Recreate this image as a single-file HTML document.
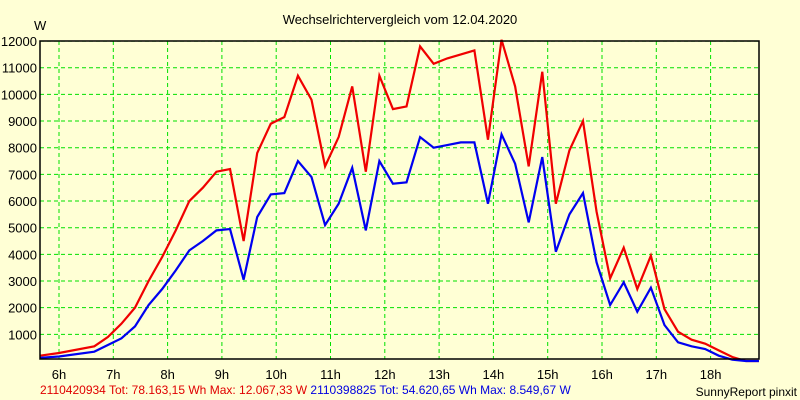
<!DOCTYPE html>
<html><head><meta charset="utf-8"><style>
body{margin:0;background:#ffffd5;}
svg{display:block;font-family:"Liberation Sans",sans-serif;}
</style></head><body>
<svg id="c" width="800" height="400">
<rect x="0" y="0" width="800" height="400" fill="#ffffd5"/>
<text x="400" y="24" font-size="13" text-anchor="middle">Wechselrichtervergleich vom 12.04.2020</text>
<text x="34" y="30" font-size="13">W</text>
<g id="grid"></g><g id="series"></g>
<rect x="40" y="41" width="719" height="318" fill="none" stroke="#000" stroke-width="1.5"/>
<text x="40" y="394" font-size="12"><tspan fill="#e00000">2110420934 Tot: 78.163,15 Wh Max: 12.067,33 W</tspan><tspan fill="#0000e0"> 2110398825 Tot: 54.620,65 Wh Max: 8.549,67 W</tspan></text>
<text x="797" y="396" font-size="12" text-anchor="end">SunnyReport pinxit</text>
</svg>
<script>
const hours=[6,7,8,9,10,11,12,13,14,15,16,17,18];
const yTicks=[1000,2000,3000,4000,5000,6000,7000,8000,9000,10000,11000,12000];
const times=[5.65,6.0,6.65,6.9,7.15,7.4,7.65,7.9,8.15,8.4,8.65,8.9,9.15,9.4,9.65,9.9,10.15,10.4,10.65,10.9,11.15,11.4,11.65,11.9,12.15,12.4,12.65,12.9,13.15,13.4,13.65,13.9,14.15,14.4,14.65,14.9,15.15,15.4,15.65,15.9,16.15,16.4,16.65,16.9,17.15,17.4,17.65,17.9,18.15,18.4,18.65,18.89];
const redVals=[200,300,550,900,1400,2000,3000,3900,4900,6000,6500,7100,7200,4500,7800,8900,9150,10700,9800,7300,8400,10300,7100,10700,9450,9550,11800,11150,11350,11500,11650,8300,12050,10300,7300,10850,5900,7900,9000,5600,3100,4250,2700,3950,1950,1100,800,650,400,150,0,0];
const blueVals=[120,170,350,600,850,1300,2100,2700,3400,4150,4500,4900,4950,3050,5400,6250,6300,7500,6900,5100,5900,7250,4900,7500,6650,6700,8400,8000,8100,8200,8200,5900,8500,7400,5200,7650,4100,5500,6300,3700,2100,2950,1850,2750,1350,700,550,450,200,50,0,0];
const NS="http://www.w3.org/2000/svg";
const xs=t=>59+(t-6)*54.3;
const ys=v=>361-v*0.02666;
const grid=document.getElementById('grid'),ser=document.getElementById('series'),svg=document.getElementById('c');
function mk(tag,attrs,parent){const e=document.createElementNS(NS,tag);for(const k in attrs)e.setAttribute(k,attrs[k]);parent.appendChild(e);return e;}
hours.forEach(h=>{
 const l=mk('line',{x1:xs(h),x2:xs(h),y1:41,y2:359,stroke:'#00e000','stroke-dasharray':'4,3'},grid);
 
 
 const t=mk('text',{x:xs(h),y:379,'font-size':13,'text-anchor':'middle'},svg);
 t.textContent=h+'h';
 
 
});
yTicks.forEach(v=>{
 const l=mk('line',{x1:40,x2:759,y1:ys(v),y2:ys(v),stroke:'#00e000','stroke-dasharray':'4,3'},grid);
 
 
 const t=mk('text',{x:37,y:ys(v)+5,'font-size':13,'text-anchor':'end'},svg);
 t.textContent=v;
 
 
});
function line(vals,color,name){
 const p=mk('polyline',{points:vals.map((v,i)=>xs(times[i])+','+ys(v)).join(' '),fill:'none',stroke:color,'stroke-width':2.2,'stroke-linejoin':'miter'},ser);
 
 
}
line(redVals,'#f00000','series-2110420934');
line(blueVals,'#0000f0','series-2110398825');
</script>
</body></html>
